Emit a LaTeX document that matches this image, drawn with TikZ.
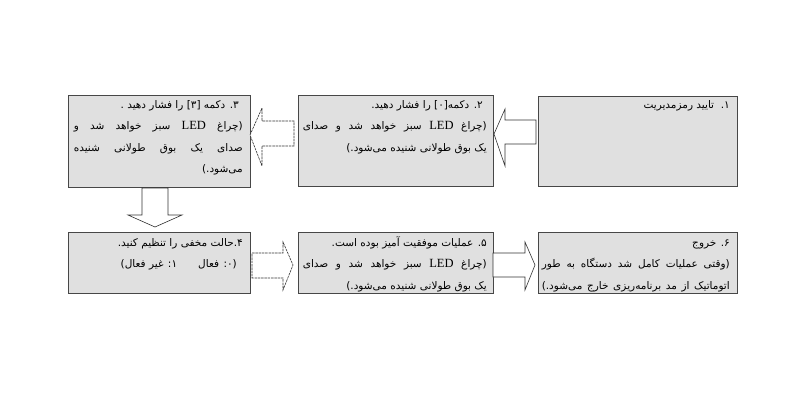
\documentclass[tikz,border=0pt]{standalone}
\usepackage{fontspec}
\TeXXeTstate=1
\newfontfamily\fa[Script=Arabic]{DejaVu Sans}
\newfontfamily\lat{Liberation Serif}
\newlength\linew
\newcommand{\Jl}[1]{\hbox to \linew{\spaceskip=.3em plus 1fil\relax\beginR #1\endR}}
\newcommand{\Rl}[1]{\hbox to \linew{\hfill\beginR #1\endR}}
\newcommand{\Ri}[2]{\hbox to \linew{\hfill\beginR #2\endR\kern#1}}
\newcommand{\LED}{{\lat\fontsize{12.5}{12}\selectfont LED}}
\newcommand{\tb}[2]{\vtop{\linew=#1\relax\baselineskip=21.5pt\lineskiplimit=-10pt #2}}
\begin{document}
\begin{tikzpicture}[x=1pt,y=-1pt,
  box/.style={draw=black!72, fill=black!12, line width=0.8pt, inner sep=0pt, anchor=north west},
  txt/.style={inner sep=0pt, anchor=base east, font=\fa\fontsize{10.5}{21}\selectfont, text=black},
  blk/.style={draw=black!80, fill=white, line width=0.6pt, line join=miter},
  blkd/.style={blk, dash pattern=on 2.5pt off 0.8pt}]
\useasboundingbox (0,0) rectangle (800,400);
\fill[white] (0,0) rectangle (800,400);
% boxes
\node[box, minimum width=182pt, minimum height=92pt] (b3) at (68,95) {};
\node[box, minimum width=195pt, minimum height=91pt] (b2) at (298,95) {};
\node[box, minimum width=199pt, minimum height=90pt] (b1) at (538,96) {};
\node[box, minimum width=182pt, minimum height=61pt] (b4) at (68,232) {};
\node[box, minimum width=195pt, minimum height=61pt] (b5) at (298,232) {};
\node[box, minimum width=199pt, minimum height=61pt] (b6) at (538,232) {};
% block arrows
\draw[blk] (494,134) -- (505,109) -- (505,120) -- (536,120) -- (536,144) -- (505,144) -- (505,166) -- cycle;
\draw[blkd] (250,135) -- (262,108) -- (262,121) -- (294,121) -- (294,146) -- (262,146) -- (262,166) -- cycle;
\draw[blk] (142,188) -- (168,188) -- (168,215) -- (182,215) -- (155,227) -- (128,215) -- (142,215) -- cycle;
\draw[blkd] (252,253) -- (283,253) -- (283,242) -- (293,265) -- (283,290) -- (283,278) -- (252,278) -- cycle;
\draw[blk] (493,253) -- (525,253) -- (525,242) -- (535,265) -- (525,290) -- (525,277) -- (493,277) -- cycle;
% texts
\node[txt] (t1) at (730,108) {\beginR ۱.\ \ تایید رمزمدیریت\endR};
\node[txt] (t2) at (487,108) {\tb{184pt}{%
  \Ri{4pt}{۲. دکمه[۰] را فشار دهید.}
  \Jl{(چراغ \LED{} سبز خواهد شد و صدای}
  \Rl{یک بوق طولانی شنیده می‌شود.)}}};
\node[txt] (t3) at (243,108) {\tb{169pt}{%
  \Ri{4pt}{۳. دکمه [۳] را فشار دهید .}
  \Jl{(چراغ \LED{} سبز خواهد شد و}
  \Jl{صدای یک بوق طولانی شنیده}
  \Rl{می‌شود.)}}};
\node[txt] (t4) at (243,246) {\tb{169pt}{%
  \Rl{۴.حالت مخفی را تنظیم کنید.}
  \Ri{6pt}{(۰: فعال\hspace{2em}۱: غیر فعال)}}};
\node[txt] (t5) at (487,246) {\tb{184pt}{%
  \Rl{۵. عملیات موفقیت آمیز بوده است.}
  \Jl{(چراغ \LED{} سبز خواهد شد و صدای}
  \Rl{یک بوق طولانی شنیده می‌شود.)}}};
\node[txt] (t6) at (730,246) {\tb{188pt}{%
  \Rl{۶. خروج}
  \Jl{(وقتی عملیات کامل شد دستگاه به طور}
  \Jl{اتوماتیک از مد برنامه‌ریزی خارج می‌شود.)}}};
\end{tikzpicture}
\end{document}
